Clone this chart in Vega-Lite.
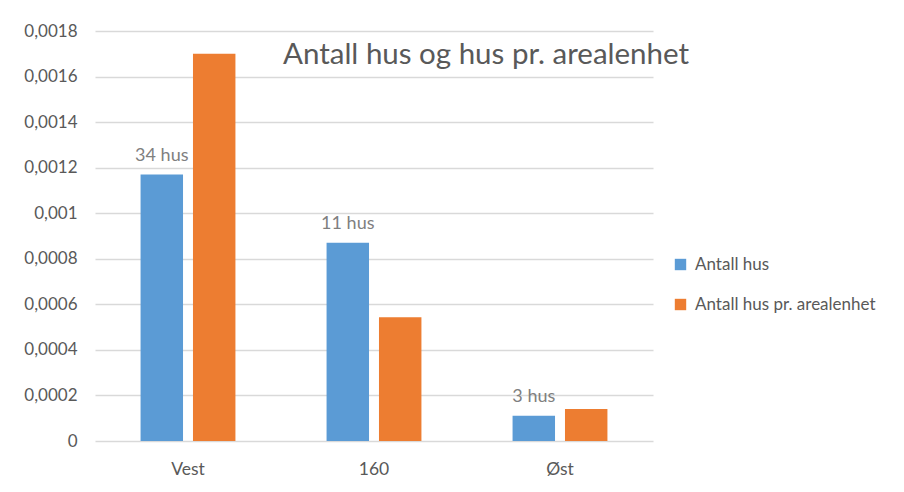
{
  "$schema": "https://vega.github.io/schema/vega-lite/v6.json",
  "width": 558,
  "height": 410,
  "autosize": "none",
  "padding": {"left": 95, "top": 31, "right": 251, "bottom": 51},
  "background": "white",
  "title": {
    "text": "Antall hus og hus pr. arealenhet",
    "anchor": "start",
    "frame": "group",
    "orient": "top",
    "dx": 188,
    "dy": 52,
    "font": "Lato",
    "fontSize": 29.5,
    "fontWeight": "normal",
    "color": "#595959"
  },
  "data": {
    "values": [
      {"omrade": "Vest", "serie": "Antall hus", "verdi": 0.00117, "etikett": "34 hus"},
      {"omrade": "Vest", "serie": "Antall hus pr. arealenhet", "verdi": 0.0017, "etikett": ""},
      {"omrade": "160", "serie": "Antall hus", "verdi": 0.00087, "etikett": "11 hus"},
      {"omrade": "160", "serie": "Antall hus pr. arealenhet", "verdi": 0.000543, "etikett": ""},
      {"omrade": "Øst", "serie": "Antall hus", "verdi": 0.000111, "etikett": "3 hus"},
      {"omrade": "Øst", "serie": "Antall hus pr. arealenhet", "verdi": 0.00014, "etikett": ""}
    ]
  },
  "encoding": {
    "x": {
      "field": "omrade",
      "type": "nominal",
      "sort": null,
      "scale": {"paddingInner": 0.49, "paddingOuter": 0.245},
      "axis": {
        "title": null,
        "labelAngle": 0,
        "labelFont": "Lato",
        "labelFontSize": 17.5,
        "labelColor": "#595959",
        "labelPadding": 19,
        "ticks": false,
        "domain": false,
        "grid": false
      }
    },
    "xOffset": {
      "field": "serie",
      "type": "nominal",
      "sort": ["Antall hus", "Antall hus pr. arealenhet"],
      "scale": {"paddingInner": 0.19, "paddingOuter": 0}
    },
    "y": {
      "field": "verdi",
      "type": "quantitative",
      "scale": {"domain": [0, 0.0018], "nice": false},
      "axis": {
        "title": null,
        "values": [0, 0.0002, 0.0004, 0.0006, 0.0008, 0.001, 0.0012, 0.0014, 0.0016, 0.0018],
        "labelExpr": "replace(format(datum.value, '.4~f'), '.', ',')",
        "labelFont": "Lato",
        "labelFontSize": 17,
        "labelColor": "#595959",
        "labelPadding": 18,
        "ticks": false,
        "domain": false,
        "grid": true,
        "gridColor": "#d9d9d9",
        "gridWidth": 1.3
      }
    }
  },
  "layer": [
    {
      "mark": {"type": "bar"},
      "encoding": {
        "color": {
          "field": "serie",
          "type": "nominal",
          "sort": ["Antall hus", "Antall hus pr. arealenhet"],
          "scale": {"domain": ["Antall hus", "Antall hus pr. arealenhet"], "range": ["#5b9bd5", "#ed7d31"]},
          "legend": {
            "title": null,
            "orient": "none",
            "legendX": 577,
            "legendY": 225,
            "symbolType": "square",
            "symbolSize": 130,
            "symbolStrokeWidth": 0,
            "labelFont": "Lato",
            "labelFontSize": 17,
            "labelColor": "#595959",
            "labelLimit": 400,
            "rowPadding": 22,
            "labelOffset": 6
          }
        }
      }
    },
    {
      "transform": [{"filter": "datum.etikett != ''"}],
      "mark": {
        "type": "text",
        "baseline": "bottom",
        "dy": -10,
        "font": "Lato",
        "fontSize": 18,
        "color": "#7f7f7f"
      },
      "encoding": {
        "text": {"field": "etikett", "type": "nominal"}
      }
    }
  ],
  "config": {
    "view": {"stroke": null}
  }
}
